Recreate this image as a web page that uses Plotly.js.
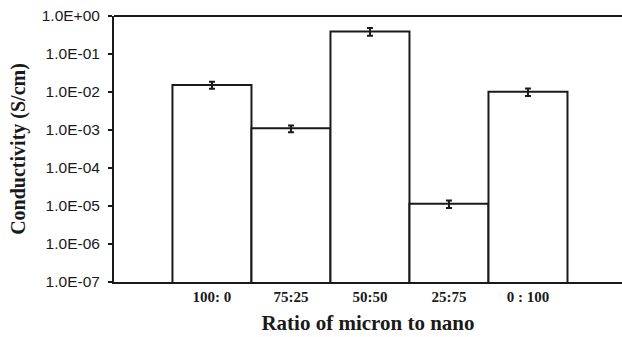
<!DOCTYPE html>
<html>
<head>
<meta charset="utf-8">
<script src="https://cdn.plot.ly/plotly-3.0.1.min.js"></script>
<style>html,body{margin:0;padding:0;background:#fff;}#chart{width:622px;height:337px;}</style>
</head>
<body>
<div id="chart"></div>
<script>
var categories = ["100: 0", "75:25", "50:50", "25:75", "0 : 100"];
var conductivity = [0.0152, 0.00111, 0.39, 0.0000115, 0.0101];
var errPlus = [0.0035, 0.00021, 0.09, 0.0000024, 0.0022];
var errMinus = [0.0031, 0.00024, 0.09, 0.0000027, 0.0023];
var yTickVals = [1e-7, 1e-6, 1e-5, 1e-4, 1e-3, 1e-2, 1e-1, 1];
var yTickText = ["1.0E-07", "1.0E-06", "1.0E-05", "1.0E-04", "1.0E-03", "1.0E-02", "1.0E-01", "1.0E+00"];

var trace = {
  type: "bar",
  x: categories,
  y: conductivity,
  marker: {color: "#ffffff", line: {color: "#1a1a1a", width: 2}},
  error_y: {type: "data", symmetric: false, array: errPlus, arrayminus: errMinus,
            color: "#1a1a1a", thickness: 2, width: 3},
  hoverinfo: "skip"
};

var layout = {
  width: 622, height: 337,
  margin: {l: 114, r: 0, t: 16, b: 55},
  paper_bgcolor: "#ffffff", plot_bgcolor: "#ffffff",
  bargap: 0,
  showlegend: false,
  shapes: [{type: "line", xref: "paper", yref: "paper", x0: 0, x1: 1, y0: 1, y1: 1,
            line: {color: "#1a1a1a", width: 2}}],
  xaxis: {
    type: "category",
    range: [-1.24, 5.19],
    showline: true, linecolor: "#1a1a1a", linewidth: 2,
    ticks: "", showgrid: false, zeroline: false,
    tickfont: {family: "Liberation Serif", size: 15, color: "#1a1a1a", weight: "bold"},
    title: {text: "<b>Ratio of micron to nano</b>", font: {family: "Liberation Serif", size: 21, color: "#1a1a1a"}, standoff: 11}
  },
  yaxis: {
    type: "log",
    range: [-7, 0],
    tickvals: yTickVals, ticktext: yTickText,
    showline: true, linecolor: "#1a1a1a", linewidth: 2,
    ticks: "outside", ticklen: 4, tickwidth: 2, tickcolor: "#1a1a1a",
    showgrid: false, zeroline: false,
    ticklabelstandoff: 5,
    tickfont: {family: "Liberation Sans", size: 15.5, color: "#1a1a1a"},
    title: {text: "<b>Conductivity (S/cm)</b>", font: {family: "Liberation Serif", size: 20, color: "#1a1a1a"}, standoff: 11}
  }
};

Plotly.newPlot("chart", [trace], layout, {staticPlot: true, displayModeBar: false});
</script>
</body>
</html>
